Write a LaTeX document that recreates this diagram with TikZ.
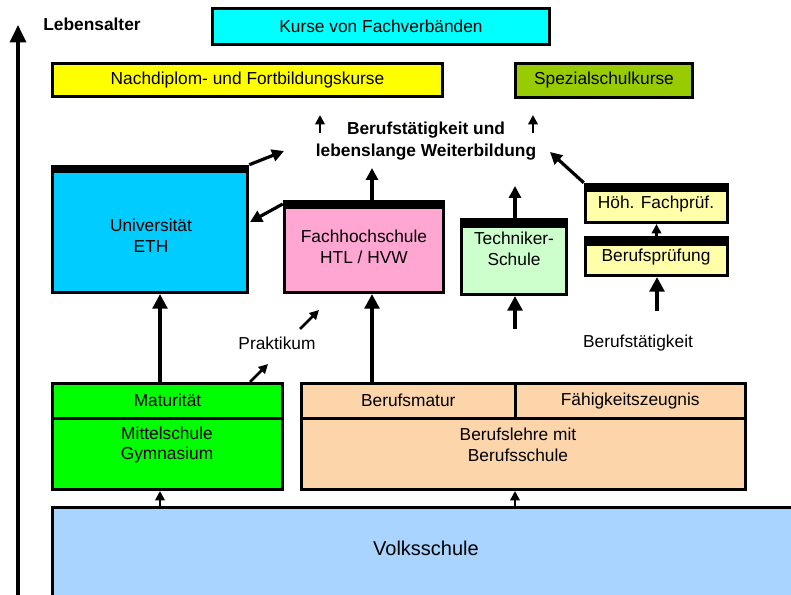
\documentclass[tikz,border=0pt]{standalone}
\usepackage{fontspec}
\setmainfont{Liberation Sans}
\usetikzlibrary{arrows.meta,fit,calc}
\definecolor{ckurse}{HTML}{00FFFF}
\definecolor{cnach}{HTML}{FFFF00}
\definecolor{cspez}{HTML}{99CC00}
\definecolor{cuni}{HTML}{00CCFF}
\definecolor{cfh}{HTML}{FFA6D3}
\definecolor{ctech}{HTML}{CCFFCC}
\definecolor{choeh}{HTML}{FFFFAA}
\definecolor{cmat}{HTML}{00FF00}
\definecolor{cberuf}{HTML}{FCD5AB}
\definecolor{cvolks}{HTML}{A8D4FF}
\begin{document}
\begin{tikzpicture}[x=0.75pt,y=-0.75pt,
  every node/.style={font=\fontsize{13}{15.5}\selectfont, align=center},
  box/.style={draw=black, line width=2.25pt, inner sep=0pt},
  band/.style={fill=black, inner sep=0pt},
  txt/.style={inner sep=1pt},
  bigarrow/.style={line width=3.2pt, -{Triangle[length=11pt,width=11pt]}},
  midarrow/.style={line width=2.4pt, -{Triangle[length=9pt,width=9pt]}},
  smallarrow/.style={line width=2pt, -{Triangle[length=7pt,width=7pt]}},
]
\useasboundingbox (0,0) rectangle (791,595);

% axis
\coordinate (ax0) at (18,600);
\coordinate (ax1) at (18,25);
\draw[line width=2.4pt, -{Triangle[length=13pt,width=12pt]}] (ax0) -- (ax1);
\node[txt, font=\fontsize{13}{15.5}\selectfont\bfseries] (lebens) at (92,24) {Lebensalter};

% top boxes
\node[box, fill=ckurse, fit={(212.5,8.5)(549.5,44.5)}] (kurse) {};
\node[txt] (kursetxt) at (kurse.center) {Kurse von Fachverbänden};
\node[box, fill=cnach, fit={(52.5,63.5)(442.5,96.5)}] (nach) {};
\node[txt] (nachtxt) at (nach.center) {Nachdiplom- und Fortbildungskurse};
\node[box, fill=cspez, fit={(515.5,63.5)(692.5,97.5)}] (spez) {};
\node[txt] (speztxt) at (spez.center) {Spezialschulkurse};

% central text
\node[txt, font=\fontsize{13}{16.5}\selectfont\bfseries] (bt) at (426,141) {Berufstätigkeit und\\lebenslange Weiterbildung};
\coordinate (u1a) at (320,133); \coordinate (u1b) at (320,115);
\coordinate (u2a) at (533,133); \coordinate (u2b) at (533,115);
\draw[smallarrow] (u1a) -- (u1b);
\draw[smallarrow] (u2a) -- (u2b);

% Universitaet
\node[box, fill=cuni, fit={(52.5,172)(247.5,292.5)}] (uni) {};
\node[band, fit={(51,165)(249,173)}] (uniband) {};
\node[txt] (unitxt) at (151,236) {Universität\\ETH};

% Fachhochschule
\node[box, fill=cfh, fit={(284.5,207.5)(443.5,292.5)}] (fh) {};
\node[band, fit={(283,200)(445,208)}] (fhband) {};
\node[txt] (fhtxt) at (364,247) {Fachhochschule\\HTL / HVW};

% Technikerschule
\node[box, fill=ctech, fit={(461.5,226)(566.5,294.5)}] (tech) {};
\node[band, fit={(460,218)(568,226)}] (techband) {};
\node[txt] (techtxt) at (514,249) {Techniker-\\Schule};

% Hoehere Fachpruefung / Berufspruefung
\node[box, fill=choeh, fit={(585.5,191)(727.5,222.5)}] (hoeh) {};
\node[band, fit={(584,183)(729,192)}] (hoehband) {};
\node[txt] (hoehtxt) at (656,204) {Höh. Fachprüf.};
\node[box, fill=choeh, fit={(585.5,244)(727.5,275.5)}] (bpruef) {};
\node[band, fit={(584,236)(729,245)}] (bpruefband) {};
\node[txt] (bprueftxt) at (656,257) {Berufsprüfung};

% labels
\node[txt] (prakt) at (277,343) {Praktikum};
\node[txt] (btk) at (638,343) {Berufstätigkeit};

% lower boxes
\node[box, fill=cmat, fit={(52.5,383.5)(282.5,418)}] (mat) {};
\node[txt] (mattxt) at (mat.center) {Maturität};
\node[box, fill=cmat, fit={(52.5,418)(282.5,489.5)}] (mittel) {};
\node[txt] (mitteltxt) at (167,445) {Mittelschule\\Gymnasium};
\node[box, fill=cberuf, fit={(301.5,383.5)(515,418)}] (bmatur) {};
\node[txt] (bmaturtxt) at (bmatur.center) {Berufsmatur};
\node[box, fill=cberuf, fit={(515,383.5)(745.5,418)}] (faeh) {};
\node[txt] (faehtxt) at (faeh.center) {Fähigkeitszeugnis};
\node[box, fill=cberuf, fit={(301.5,418)(745.5,489.5)}] (blehre) {};
\node[txt] (blehretxt) at (518,445) {Berufslehre mit\\Berufsschule};

% Volksschule
\node[box, fill=cvolks, fit={(52.5,507.5)(810,620)}] (volks) {};
\node[txt, font=\fontsize{15}{18}\selectfont] (volkstxt) at (426,548) {Volksschule};

% connectors
\coordinate (t1) at (284,151);
\draw[midarrow] (uniband.north east) -- (t1);
\coordinate (t2) at (250,222);
\draw[midarrow] (fhband.west) -- (t2);
\coordinate (t3) at (372,168);
\draw[midarrow] (t3 |- fhband.north) -- (t3);
\coordinate (t4) at (515,186);
\draw[midarrow] (t4 |- techband.north) -- (t4);
\coordinate (t5) at (550,152);
\draw[midarrow] (hoehband.north west) -- (t5);
\draw[smallarrow] (bpruefband.north) -- (hoeh.south);
\coordinate (s1) at (657,311);
\draw[bigarrow] (s1) -- (s1 |- bpruef.south);
\coordinate (s2) at (515,329);
\draw[bigarrow] (s2) -- (s2 |- tech.south);
\coordinate (p1) at (300,329); \coordinate (p2) at (319,310);
\draw[smallarrow] (p1) -- (p2);
\coordinate (m1) at (250,382); \coordinate (m2) at (268,364);
\draw[smallarrow] (m1) -- (m2);
\coordinate (c1) at (160,0);
\draw[bigarrow] (c1 |- mat.north) -- (c1 |- uni.south);
\coordinate (c2) at (372,0);
\draw[bigarrow] (c2 |- bmatur.north) -- (c2 |- fh.south);
\draw[smallarrow] (c1 |- volks.north) -- (c1 |- mittel.south);
\coordinate (c3) at (515,0);
\draw[smallarrow] (c3 |- volks.north) -- (c3 |- blehre.south);
\end{tikzpicture}
\end{document}
